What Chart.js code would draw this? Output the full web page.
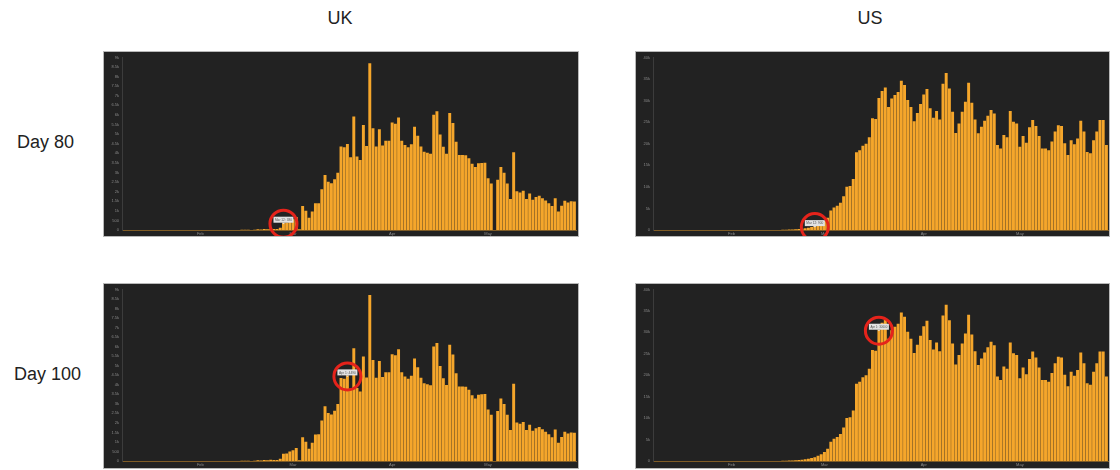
<!DOCTYPE html>
<html>
<head>
<meta charset="utf-8">
<script src="https://cdn.jsdelivr.net/npm/chart.js@4.4.1/dist/chart.umd.min.js"></script>
<style>
body { margin: 0; background: #fff; width: 1120px; height: 470px; position: relative; overflow: hidden;
       font-family: "Liberation Sans", Arial, sans-serif; }
.lbl { position: absolute; color: #222; font-size: 18px; white-space: nowrap; }
.panel { position: absolute; border: 1px solid #b8b8b8; background: #222; box-sizing: border-box; }
.panel canvas { display: block; }
</style>
</head>
<body>
<div class="lbl" style="left:340px;top:8px;transform:translateX(-50%)">UK</div>
<div class="lbl" style="left:870px;top:8px;transform:translateX(-50%)">US</div>
<div class="lbl" style="left:17px;top:132px">Day 80</div>
<div class="lbl" style="left:14px;top:364px">Day 100</div>

<div class="panel" style="left:103px;top:51px;width:476px;height:186px"><canvas id="ukTop"></canvas></div>
<div class="panel" style="left:635px;top:51px;width:475px;height:186px"><canvas id="usTop"></canvas></div>
<div class="panel" style="left:103px;top:283px;width:476px;height:186px"><canvas id="ukBottom"></canvas></div>
<div class="panel" style="left:635px;top:283px;width:475px;height:186px"><canvas id="usBottom"></canvas></div>

<script>
// daily new cases, one bar per day starting 22 Jan 2020
var startDate = '2020-01-22';
var monthNames = ['Jan', 'Feb', 'Mar', 'Apr', 'May', 'Jun'];

var ukCases = [
    0, 0, 0, 0, 0, 0, 0, 0, 0, 2,
    0, 0, 0, 0, 0, 1, 0, 0, 0, 4, 1, 0, 0, 0, 0, 0, 0, 0, 0, 0, 0, 0, 0, 4,
    3, 5, 3, 13, 8, 12, 4, 11, 34, 30, 48, 43, 67, 48, 52, 120, 380, 390, 500, 560, 680, 40,
    1250, 1010, 645, 960, 1390, 1400, 2120, 2870, 2520, 2440, 2640, 2990, 4350, 4310, 4490, 3790,
    5920, 3830, 3650, 5480, 4380, 8700,
    5300, 4360, 5250, 4400, 4650, 4650, 5600, 5540, 5860, 4650, 4430, 4320, 4470, 5380, 4920, 4360,
    4080, 4030, 3970, 6010, 6190, 4980, 4340, 3980, 6100, 5580, 4600, 3910, 3910, 3900, 3740, 3450,
    3280, 3480, 3500, 3510, 2700, 2430,
    0,
    2620, 3280, 2990, 2420, 1620, 4050, 2020, 1950, 2050, 1620, 1900, 1580, 1720, 1780, 1660, 1540,
    1400, 1250, 1650, 960, 1260, 1530, 1440, 1500, 1480
];

var usCases = [
    0, 0, 0, 0, 1, 0, 0, 0, 0, 1, 0, 1, 0, 0, 1, 0, 0, 0, 0, 0,
    0, 0, 0, 0, 0, 0, 0, 0, 0, 0, 0, 0, 0, 0, 2, 0, 3, 5, 8,
    20, 30, 60, 100, 120, 180, 250, 300, 400, 520, 700, 900, 1200,
    1600, 2100, 2850, 4500, 5200, 5600, 6300, 7800, 10000, 10200, 11800, 18000,
    18500, 19500, 20000, 21500, 25900, 25700, 30600, 32200, 33000, 28500, 30500, 31300, 32000,
    34600, 33600, 30100, 28500, 25200, 27100, 29200, 31400, 32700, 28200, 26000, 27600, 25600,
    33900, 36400, 32800, 27400, 22500, 24700, 27400, 29700, 34100, 29500, 25600, 22400, 23900,
    25300, 26500, 27800, 27000, 19700, 18900, 22000, 21500, 27600, 25100, 24700, 19300, 21800,
    20200, 23800, 25500, 24100, 21800, 18900, 18900, 18500, 20500, 22800, 24300, 24100, 20100,
    17400, 20800, 19900, 21200, 25300, 22800, 18100, 17800, 20800, 22800, 25500, 25500, 19700
];

var ukAxis = { max: 9000, step: 500 };
var usAxis = { max: 40000, step: 5000 };

// bar that the highlighted tooltip sits on, for each row
var markerIndex = { day80: 50, day100: 70 };

var labels = [];
var d0 = new Date(startDate + 'T00:00:00');
for (var i = 0; i < ukCases.length; i++) {
    var d = new Date(d0.getTime());
    d.setDate(d0.getDate() + i);
    labels.push(monthNames[d.getMonth()] + ' ' + d.getDate());
}

var markerPlugin = {
    id: 'marker',
    afterDatasetsDraw: function (chart, args, opts) {
        var idx = opts.index;
        var bar = chart.getDatasetMeta(0).data[idx];
        var ctx = chart.ctx;
        var x = bar.x, y = bar.y;
        ctx.save();
        ctx.fillStyle = '#e2e2e2';
        ctx.fillRect(x - 10, y - 6, 20, 6);
        ctx.beginPath();
        ctx.moveTo(x - 1.5, y);
        ctx.lineTo(x + 1.5, y);
        ctx.lineTo(x, y + 1.5);
        ctx.fill();
        ctx.fillStyle = '#555';
        ctx.font = '4px "Liberation Sans"';
        ctx.textAlign = 'center';
        ctx.textBaseline = 'middle';
        ctx.fillText(labels[idx] + ': ' + chart.data.datasets[0].data[idx], x, y - 3, 17);
        ctx.strokeStyle = '#e5231b';
        ctx.lineWidth = 3;
        ctx.beginPath();
        ctx.arc(x, y + 1, 13.5, 0, Math.PI * 2);
        ctx.stroke();
        ctx.restore();
    }
};

function kLabel(v) {
    return v >= 1000 ? (v / 1000) + 'k' : v;
}

function makeChart(id, values, axis, idx, padTop, xh, yw, padRight) {
    var ctx = document.getElementById(id).getContext('2d');
    return new Chart(ctx, {
        type: 'bar',
        data: {
            labels: labels,
            datasets: [{
                data: values,
                backgroundColor: '#f5a62b',
                barPercentage: 0.92,
                categoryPercentage: 1
            }]
        },
        options: {
            animation: false,
            responsive: true,
            maintainAspectRatio: false,
            layout: { padding: { top: padTop, right: padRight, left: 0, bottom: 0 } },
            plugins: {
                legend: { display: false },
                tooltip: { enabled: false },
                marker: { index: idx }
            },
            scales: {
                x: {
                    grid: { display: false, drawTicks: false },
                    border: { color: 'rgba(245,165,42,0.45)' },
                    ticks: {
                        autoSkip: false, maxRotation: 0, minRotation: 0, padding: 1,
                        font: { size: 4 }, color: '#8a8a8a',
                        callback: function (v, i) {
                            var p = labels[i].split(' ');
                            return p[1] === '15' ? p[0] : '';
                        }
                    },
                    afterFit: function (s) { s.height = xh; }
                },
                y: {
                    min: 0, max: axis.max,
                    grid: { display: false, drawTicks: false },
                    border: { color: '#3c3c3c' },
                    ticks: {
                        stepSize: axis.step, padding: 3,
                        font: { size: 4 }, color: '#8a8a8a',
                        callback: kLabel
                    },
                    afterFit: function (s) { s.width = yw; }
                }
            }
        },
        plugins: [markerPlugin]
    });
}

makeChart('ukTop', ukCases, ukAxis, markerIndex.day80, 5, 6, 18, 2);
makeChart('usTop', usCases, usAxis, markerIndex.day80, 5, 6, 17, 1);
makeChart('ukBottom', ukCases, ukAxis, markerIndex.day100, 3, 7, 18, 2);
makeChart('usBottom', usCases, usAxis, markerIndex.day100, 3, 7, 17, 1);
</script>
</body>
</html>
